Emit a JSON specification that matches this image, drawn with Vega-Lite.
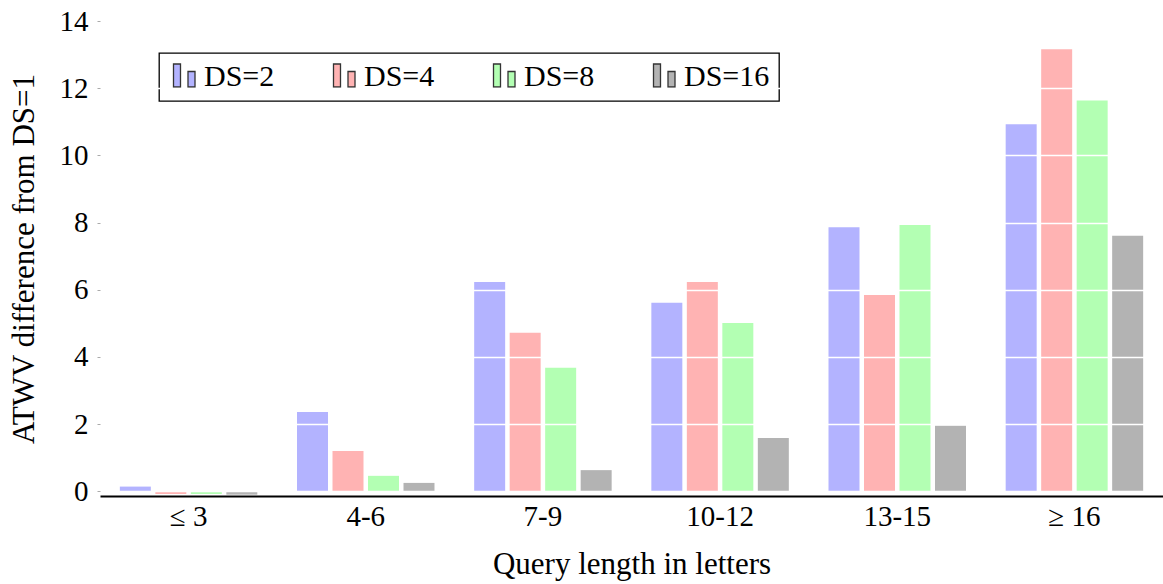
{
  "$schema": "https://vega.github.io/schema/vega-lite/v6.json",
  "autosize": "none",
  "width": 1063,
  "height": 475,
  "padding": {"left": 100, "top": 21, "right": 0, "bottom": 88},
  "background": "white",
  "config": {
    "view": {"stroke": null},
    "font": "Liberation Serif",
    "legend": {"strokeWidth": 1.3}
  },
  "data": {
    "values": [
      {"group": "≤ 3", "series": "DS=2", "value": 0.14},
      {"group": "≤ 3", "series": "DS=4", "value": -0.08},
      {"group": "≤ 3", "series": "DS=8", "value": -0.08},
      {"group": "≤ 3", "series": "DS=16", "value": -0.1},
      {"group": "4-6", "series": "DS=2", "value": 2.36},
      {"group": "4-6", "series": "DS=4", "value": 1.2},
      {"group": "4-6", "series": "DS=8", "value": 0.46},
      {"group": "4-6", "series": "DS=16", "value": 0.25},
      {"group": "7-9", "series": "DS=2", "value": 6.23},
      {"group": "7-9", "series": "DS=4", "value": 4.72},
      {"group": "7-9", "series": "DS=8", "value": 3.68},
      {"group": "7-9", "series": "DS=16", "value": 0.63},
      {"group": "10-12", "series": "DS=2", "value": 5.61},
      {"group": "10-12", "series": "DS=4", "value": 6.23},
      {"group": "10-12", "series": "DS=8", "value": 5.01},
      {"group": "10-12", "series": "DS=16", "value": 1.59},
      {"group": "13-15", "series": "DS=2", "value": 7.86},
      {"group": "13-15", "series": "DS=4", "value": 5.84},
      {"group": "13-15", "series": "DS=8", "value": 7.93},
      {"group": "13-15", "series": "DS=16", "value": 1.95},
      {"group": "≥ 16", "series": "DS=2", "value": 10.93},
      {"group": "≥ 16", "series": "DS=4", "value": 13.16},
      {"group": "≥ 16", "series": "DS=8", "value": 11.63},
      {"group": "≥ 16", "series": "DS=16", "value": 7.61}
    ]
  },
  "mark": {"type": "bar"},
  "encoding": {
    "x": {
      "field": "group",
      "type": "nominal",
      "sort": ["≤ 3", "4-6", "7-9", "10-12", "13-15", "≥ 16"],
      "scale": {"paddingInner": 0.224, "paddingOuter": 0.112},
      "axis": {
        "title": "Query length in letters",
        "labelAngle": 0,
        "labelFontSize": 29,
        "labelColor": "black",
        "labelPadding": 6,
        "ticks": false,
        "tickSize": 0,
        "domainColor": "black",
        "domainWidth": 2,
        "titleFontSize": 31,
        "titleFontWeight": "normal",
        "titleColor": "black",
        "titlePadding": 18
      }
    },
    "xOffset": {
      "field": "series",
      "type": "nominal",
      "sort": ["DS=2", "DS=4", "DS=8", "DS=16"],
      "scale": {"paddingInner": 0.127, "paddingOuter": 0}
    },
    "y": {
      "field": "value",
      "type": "quantitative",
      "scale": {"domain": [-0.14, 14], "nice": false, "zero": true},
      "axis": {
        "title": "ATWV difference from DS=1",
        "values": [0, 2, 4, 6, 8, 10, 12, 14],
        "zindex": 1,
        "grid": true,
        "gridColor": "white",
        "gridWidth": 1.5,
        "domain": false,
        "tickColor": "#aaaaaa",
        "tickSize": 3,
        "labelFontSize": 29,
        "labelColor": "black",
        "labelPadding": 9,
        "titleFontSize": 31,
        "titleFontWeight": "normal",
        "titleColor": "black",
        "titlePadding": 19
      }
    },
    "color": {
      "field": "series",
      "type": "nominal",
      "sort": ["DS=2", "DS=4", "DS=8", "DS=16"],
      "scale": {
        "domain": ["DS=2", "DS=4", "DS=8", "DS=16"],
        "range": ["#b3b3ff", "#ffb3b3", "#b3ffb3", "#b3b3b3"]
      },
      "legend": {
        "title": null,
        "orient": "none",
        "legendX": 59,
        "legendY": 32,
        "direction": "horizontal",
        "columns": 4,
        "padding": 9,
        "strokeColor": "black",
        "fillColor": "white",
        "cornerRadius": 0,
        "symbolType": "M-0.95,-1.3H-0.25V1.0H-0.95Z M0.5,-0.55H1.2V1.0H0.5Z",
        "symbolSize": 400,
        "symbolStrokeColor": "#333333",
        "symbolStrokeWidth": 1.3,
        "symbolOpacity": 1,
        "labelFontSize": 30,
        "labelColor": "black",
        "labelOffset": 6,
        "columnPadding": 53
      }
    }
  }
}
